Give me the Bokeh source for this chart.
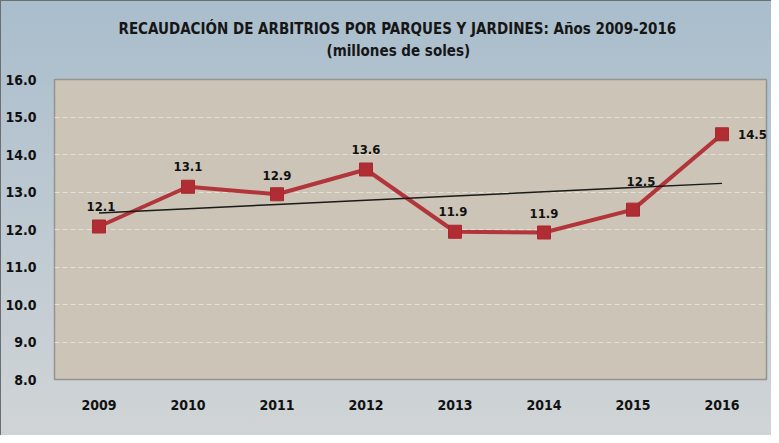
from bokeh.plotting import figure
from bokeh.models import ColumnDataSource, Title, FixedTicker, NumeralTickFormatter, Range1d
from bokeh.core.properties import value
from bokeh.embed import file_html
from bokeh.resources import INLINE

# ---- data ----
years = ["2009", "2010", "2011", "2012", "2013", "2014", "2015", "2016"]
recaudacion = [12.08, 13.14, 12.94, 13.60, 11.94, 11.92, 12.53, 14.54]
y_ticks = [8, 9, 10, 11, 12, 13, 14, 15, 16]
title_line1 = "RECAUDACIÓN DE ARBITRIOS POR PARQUES Y JARDINES: Años 2009-2016"
title_line2 = "(millones de soles)"

# ---- linear trend (least squares) ----
n = len(recaudacion)
xs = list(range(n))
mx = sum(xs) / n
my = sum(recaudacion) / n
slope = sum((x - mx) * (y - my) for x, y in zip(xs, recaudacion)) / sum((x - mx) ** 2 for x in xs)
intercept = my - slope * mx
trend = [intercept + slope * x for x in xs]

labels = ["{:.1f}".format(v) for v in recaudacion]
# label placement (styling)
lbl_dx = [2, 0, 0, 0, -2, 0, 8, 16]
lbl_dy = [-20, -20, -19, -20, -20, -19, -28, 0]
lbl_align = ["center"] * 7 + ["left"]

FONT = "Liberation Sans Narrow, DejaVu Sans Condensed, Liberation Sans, sans-serif"

src = ColumnDataSource(dict(x=years, y=recaudacion, t=trend, lab=labels,
                            dx=lbl_dx, dy=lbl_dy, al=lbl_align))

p = figure(x_range=years, y_range=Range1d(8, 16), width=771, height=435,
           output_backend="svg", toolbar_location=None,
           min_border_left=53, min_border_right=6, min_border_top=78, min_border_bottom=57)

p.styles = {"background": "linear-gradient(to bottom, #a9bdcc 0%, #bac7d1 40%, #d0d4d6 100%)",
            "border-left": "1px solid #6b6f72", "border-top": "1px solid #6b6f72",
            "box-sizing": "border-box"}
p.border_fill_alpha = 0
p.background_fill_color = "#ccc4b6"
p.outline_line_color = "#939390"
p.outline_line_width = 1.5

# spacer panel between the frame and the title lines
p.add_layout(Title(text=" ", standoff=15, text_font_size="1px"), "above")
p.add_layout(Title(text=title_line2, align="left", offset=272, text_font=FONT,
                   text_font_size="15px", text_font_style="bold", text_color="#161616",
                   standoff=4), "above")
p.add_layout(Title(text=title_line1, align="left", offset=64, text_font=FONT,
                   text_font_size="15px", text_font_style="bold", text_color="#161616",
                   standoff=0), "above")

p.xgrid.grid_line_color = None
p.ygrid.grid_line_color = "#e4e0d8"
p.ygrid.grid_line_dash = "5 3"
p.ygrid.grid_line_width = 1

p.yaxis.ticker = FixedTicker(ticks=y_ticks)
p.yaxis.formatter = NumeralTickFormatter(format="0.0")
for ax in (p.xaxis, p.yaxis):
    ax.axis_line_color = None
    ax.major_tick_line_color = None
    ax.minor_tick_line_color = None
    ax.major_label_text_font = FONT
    ax.major_label_text_font_style = "bold"
    ax.major_label_text_font_size = "14px"
    ax.major_label_text_color = "#111111"
p.yaxis.major_label_standoff = 12
p.xaxis.major_label_standoff = 14

p.line("x", "y", source=src, line_color="#b1353a", line_width=4)
p.line("x", "t", source=src, line_color="#1a1a1a", line_width=1.5)
p.scatter("x", "y", source=src, marker="square", size=13, fill_color="#b02e33",
          line_color="#a8282d")
p.text("x", "y", text="lab", source=src, x_offset="dx", y_offset="dy",
       text_align="al", text_baseline="middle", text_font=value(FONT),
       text_font_style="bold", text_font_size="13px", text_color="#111111")

open("out.html", "w").write(file_html(p, INLINE))
